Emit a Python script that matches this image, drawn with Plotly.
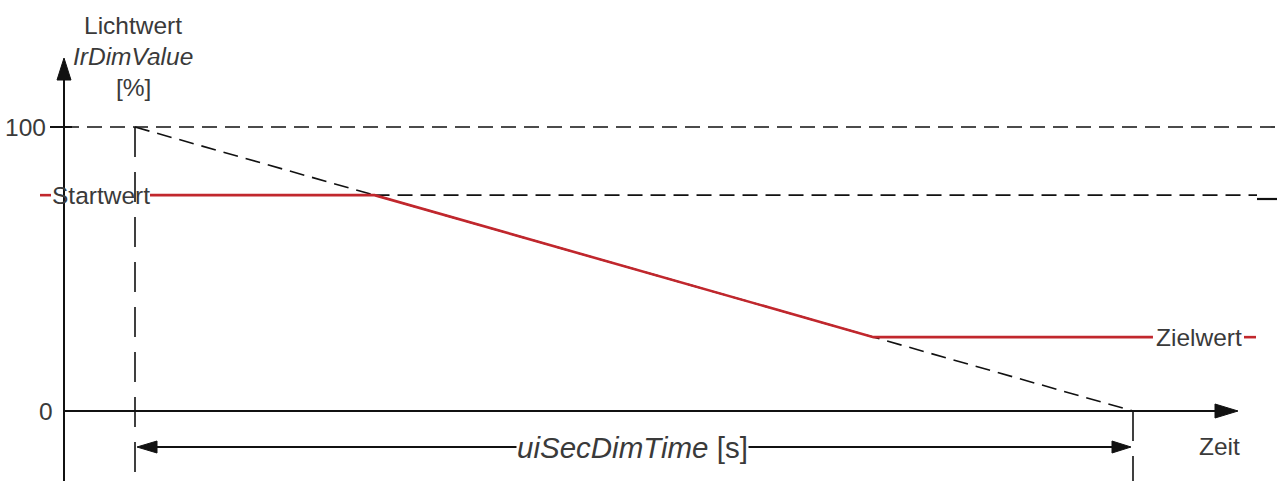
import plotly.graph_objects as go

# ---------------- data ----------------
value_ticks = [0, 100]
value_tick_labels = ["0", "100"]
start_value = 76          # Startwert
target_value = 26         # Zielwert
dim_time = 100            # uiSecDimTime (time units)
red_t = [1.5, 24, 74, 102.0]
red_v = [start_value, start_value, target_value, target_value]
ramp_t = [0, dim_time]
ramp_v = [100, 0]

# ---------------- scale (px per data unit) ----------------
W, H = 1277, 481
X0_PX, Y0_PX = 135, 411       # pixel of t=0, v=0
PX_T, PX_V = 9.98, 2.84

def tx(px):
    return (px - X0_PX) / PX_T

def vy(py):
    return (Y0_PX - py) / PX_V

x_range = [tx(0), tx(W)]
y_range = [vy(H), vy(0)]

BLACK = "#111111"
RED = "#c1272d"
TXT = "#3a3a3a"
FONT = "Arial, Liberation Sans, sans-serif"

fig = go.Figure()

def line(xs, ys, color=BLACK, width=2, dash="solid"):
    fig.add_trace(go.Scatter(x=xs, y=ys, mode="lines", hoverinfo="skip",
                             line=dict(color=color, width=width, dash=dash),
                             showlegend=False))

def tri(xs, ys, color=BLACK):
    fig.add_trace(go.Scatter(x=xs + [xs[0]], y=ys + [ys[0]], mode="lines",
                             fill="toself", fillcolor=color, hoverinfo="skip",
                             line=dict(color=color, width=1), showlegend=False))

axis_t = tx(64)
# dashed reference lines
line([axis_t, x_range[1]], [100, 100], width=1.6, dash="15px,8px")
line([red_t[1], tx(1257)], [start_value, start_value], width=1.6, dash="15px,8px")
line([tx(1257), x_range[1]], [vy(199), vy(199)], width=2.2)
line(ramp_t, ramp_v, width=1.6, dash="15px,8px")
line([0, 0], [100, y_range[0]], width=1.6, dash="30px,15px")
line([dim_time, dim_time], [0, y_range[0]], width=1.6, dash="30px,15px")

# red curve
line(red_t, red_v, color=RED, width=2.6)
line([tx(40), tx(51)], [start_value, start_value], color=RED, width=2.6)
line([tx(1244), tx(1256)], [target_value, target_value], color=RED, width=2.6)

# y axis with arrow
line([axis_t, axis_t], [y_range[0], vy(78)], width=2)
tri([tx(57), tx(71), axis_t], [vy(80), vy(80), vy(58)])
# tick at 100
line([tx(50), tx(72)], [100, 100], width=2)

# x axis with arrow
line([axis_t, tx(1216)], [0, 0], width=2)
tri([tx(1215), tx(1215), tx(1238)], [vy(404), vy(418), 0])

# double arrow dim time
arr_v = vy(447)
line([tx(150), tx(1120)], [arr_v, arr_v], width=1.8)
tri([tx(157), tx(157), tx(137)], [vy(441), vy(453), arr_v])
tri([tx(1112), tx(1112), tx(1131)], [vy(441), vy(453), arr_v])

ann = []
def text(t, v, s, size=24.5, xanchor="center", bg=None, color=TXT):
    ann.append(dict(x=t, y=v, text=s, showarrow=False, xanchor=xanchor,
                    yanchor="middle", font=dict(family=FONT, size=size, color=color),
                    bgcolor=bg, borderpad=0))

text(tx(133), vy(25), "Lichtwert")
text(tx(133), vy(56), "<i>IrDimValue</i>")
text(tx(133), vy(87), "[%]")
text(tx(47), value_ticks[1], value_tick_labels[1], xanchor="right")
text(tx(46), value_ticks[0], value_tick_labels[0])
text(tx(101), start_value, "Startwert")
text(tx(1199), target_value, "Zielwert")
text(tx(1219), vy(446), "Zeit")
text(tx(632), arr_v, "<i>uiSecDimTime</i> [s]", size=29.5, bg="white")

fig.update_layout(
    width=W, height=H,
    margin=dict(l=0, r=0, t=0, b=0),
    paper_bgcolor="white", plot_bgcolor="white",
    xaxis=dict(range=x_range, visible=False, fixedrange=True),
    yaxis=dict(range=y_range, visible=False, fixedrange=True),
    annotations=ann,
    showlegend=False,
)

fig.write_html("out.html", config={"displayModeBar": False},
               post_script="document.body.style.margin='0';")
